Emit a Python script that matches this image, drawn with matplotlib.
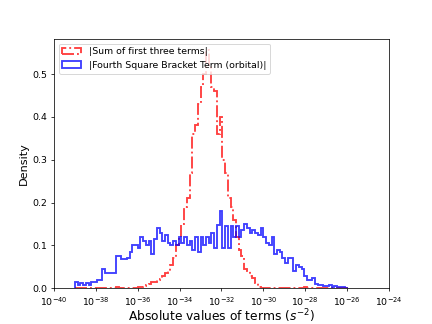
import numpy as np
import matplotlib
matplotlib.use("Agg")
import matplotlib.pyplot as plt

# histogram densities (per decade), 100 log-spaced bins
log_lo, log_hi = -39.0, -25.95

sum_three = [
    0, 0, 0, 0, 0, 0, 0, 0, 0, 0,
    0.002, 0, 0, 0, 0, 0.003, 0, 0, 0.002, 0,
    0, 0.002, 0.002, 0.003, 0.004, 0.006, 0.008, 0.01, 0.015, 0.015,
    0.02, 0.022, 0.028, 0.035, 0.04, 0.055, 0.07, 0.1, 0.12, 0.15,
    0.19, 0.21, 0.27, 0.36, 0.38, 0.43, 0.47, 0.5, 0.555, 0.52,
    0.47, 0.46, 0.36, 0.4, 0.3, 0.27, 0.21, 0.19, 0.16, 0.12,
    0.09, 0.075, 0.045, 0.04, 0.03, 0.025, 0.012, 0.004, 0, 0,
    0, 0, 0, 0, 0, 0, 0, 0, 0, 0,
    0.002, 0, 0, 0, 0.003, 0, 0.002, 0, 0, 0,
    0, 0, 0, 0, 0, 0, 0, 0, 0, 0,
]

fourth_term = [
    0.016, 0.008, 0.012, 0.008, 0.012, 0.008, 0.014, 0.016, 0.02, 0.02,
    0.045, 0.035, 0.035, 0.035, 0.035, 0.075, 0.075, 0.068, 0.068, 0.07,
    0.085, 0.1, 0.1, 0.095, 0.12, 0.11, 0.1, 0.11, 0.08, 0.115,
    0.14, 0.13, 0.11, 0.125, 0.105, 0.1, 0.11, 0.1, 0.12, 0.105,
    0.12, 0.1, 0.11, 0.09, 0.12, 0.085, 0.12, 0.1, 0.12, 0.105,
    0.13, 0.095, 0.148, 0.18, 0.095, 0.145, 0.095, 0.145, 0.12, 0.145,
    0.12, 0.135, 0.15, 0.14, 0.13, 0.135, 0.13, 0.125, 0.14, 0.12,
    0.105, 0.1, 0.12, 0.08, 0.09, 0.085, 0.07, 0.06, 0.07, 0.07,
    0.04, 0.055, 0.05, 0.045, 0.03, 0.02, 0.02, 0.025, 0.01, 0.008,
    0.008, 0.005, 0.006, 0.008, 0.004, 0.006, 0.004, 0.004, 0.004, 0.002,
]

edges = 10 ** np.linspace(log_lo, log_hi, len(fourth_term) + 1)
centers = np.sqrt(edges[:-1] * edges[1:])

fig, ax = plt.subplots(figsize=(6.4, 4.8), dpi=67.5)

ax.hist(centers, bins=edges, weights=sum_three, histtype='step',
        color='r', alpha=0.75, linewidth=2, linestyle='-.',
        label='|Sum of first three terms|')
ax.hist(centers, bins=edges, weights=fourth_term, histtype='step',
        color='b', alpha=0.75, linewidth=2,
        label='|Fourth Square Bracket Term (orbital)|')

ax.set_xscale('log')
ax.set_xlim(1e-40, 1e-24)
ax.set_xticks([10.0 ** p for p in range(-40, -23, 2)])
ax.minorticks_off()
ax.set_ylim(0, 0.582)

ax.set_xlabel('Absolute values of terms ($s^{-2}$)', fontsize=13, labelpad=0)
ax.set_ylabel('Density', fontsize=12)
ax.legend(loc='upper left')

plt.savefig('out.png')
